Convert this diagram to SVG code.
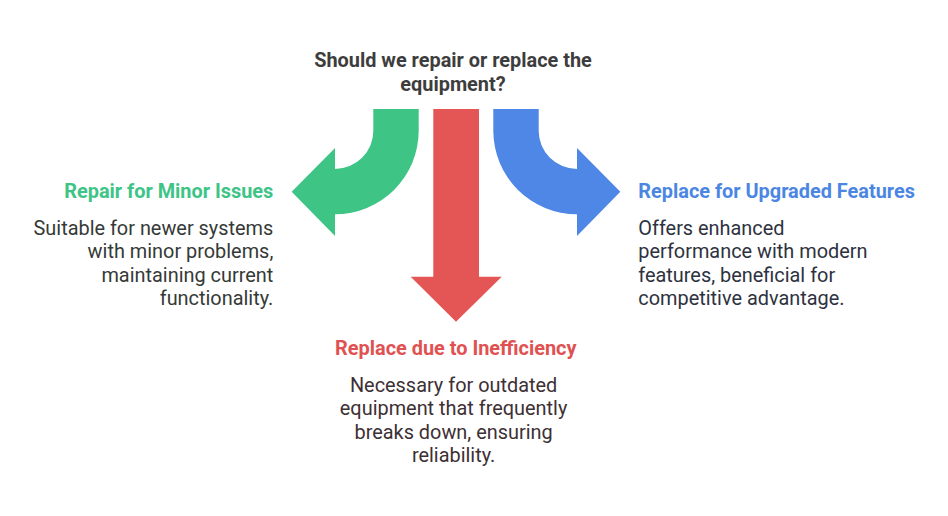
<svg xmlns="http://www.w3.org/2000/svg" width="948" height="516" viewBox="0 0 948 516">
<style>
.t{font-family:Roboto,"Liberation Sans",sans-serif;font-size:19.9px}
.b{font-weight:bold}
.e{text-anchor:end}
.m{text-anchor:middle}
.title{fill:#3d3d3d}
.gh{fill:#3dc486}
.bh{fill:#4b86e3}
.rh{fill:#e05252}
.gb{fill:#353a37}
.bb{fill:#2e3240}
.rb{fill:#3d3034}
</style>
<rect width="948" height="516" fill="#ffffff"/>
<g id="title">
<text class="t b title m" x="453" y="67">Should we repair or replace the</text>
<text class="t b title m" x="453" y="91">equipment?</text>
</g>
<g id="connectors">
<path id="arrow-repair" fill="#3ec585" d="M373.3,109 L418.7,109 L418.7,131 A83.7,83.7 0 0 1 335,214.3 L335,236 L291.7,191.7 L335,148 L335,169 A38.3,38 0 0 0 373.3,131 Z"/>
<path id="arrow-inefficiency" fill="#e45555" d="M433.3,109 L479,109 L479,276.7 L501.7,276.7 L456,321.7 L410.7,276.7 L433.3,276.7 Z"/>
<path id="arrow-upgrade" fill="#4e87e5" d="M538.7,109 L493.3,109 L493.3,131 A83.7,83.7 0 0 0 577,214.3 L577,236 L620.3,191.7 L577,148 L577,169 A38.3,38 0 0 1 538.7,131 Z"/>
</g>
<g id="node-repair">
<text class="t b gh e" x="273.3" y="198">Repair for Minor Issues</text>
<text class="t gb e" x="273.3" y="234.8">Suitable for newer systems</text>
<text class="t gb e" x="273.3" y="258.2">with minor problems,</text>
<text class="t gb e" x="273.3" y="281.6">maintaining current</text>
<text class="t gb e" x="273.3" y="305">functionality.</text>
</g>
<g id="node-upgrade">
<text class="t b bh" x="638.3" y="198">Replace for Upgraded Features</text>
<text class="t bb" x="638.3" y="234.8">Offers enhanced</text>
<text class="t bb" x="638.3" y="258.2">performance with modern</text>
<text class="t bb" x="638.3" y="281.6">features, beneficial for</text>
<text class="t bb" x="638.3" y="305">competitive advantage.</text>
</g>
<g id="node-inefficiency">
<text class="t b rh m" x="455.8" y="355">Replace due to Inefficiency</text>
<text class="t rb m" x="453.6" y="391.7">Necessary for outdated</text>
<text class="t rb m" x="453.6" y="415.1">equipment that frequently</text>
<text class="t rb m" x="453.6" y="438.5">breaks down, ensuring</text>
<text class="t rb m" x="453.6" y="461.9">reliability.</text>
</g>
</svg>
